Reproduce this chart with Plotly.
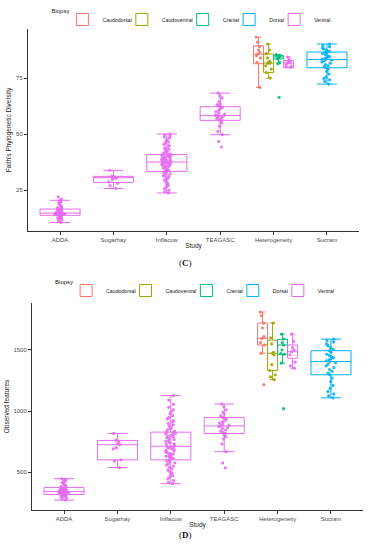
import plotly.graph_objects as go

# ---------------- data ----------------
studies = ["ADDA", "Sugarhay", "Inflacow", "TEAGASC", "Heterogeneity", "Sucram"]
biopsies = ["Caudodorsal", "Caudoventral", "Cranial", "Dorsal", "Ventral"]
biopsy_colors = ["#F8766D", "#A3A500", "#00BF7D", "#00B0F6", "#E76BF3"]

# groups in drawing order: (study, biopsy)
group_study = ["ADDA", "Sugarhay", "Inflacow", "TEAGASC",
               "Heterogeneity", "Heterogeneity", "Heterogeneity", "Heterogeneity", "Sucram"]
group_biopsy = ["Ventral", "Ventral", "Ventral", "Ventral",
                "Caudodorsal", "Caudoventral", "Cranial", "Ventral", "Dorsal"]

faith_ticks = [25, 50, 75]
observed_ticks = [500, 1000, 1500]

# Faith's Phylogenetic Diversity (panel C)
faith_adda = [10.5, 11.2, 11.8, 12.3, 12.7, 13.0, 13.3, 13.5, 13.7, 13.8, 13.9, 14.0, 14.1, 14.2,
              14.3, 14.4, 14.5, 14.6, 14.7, 14.7, 14.8, 14.9, 15.0, 15.1, 15.3, 15.5, 15.7, 16.0,
              16.3, 16.5, 16.8, 17.2, 17.6, 18.2, 18.8, 19.3, 19.6, 20.4, 21.0, 21.9]
faith_sugarhay = [25.7, 27.0, 28.0, 28.6, 29.6, 30.2, 30.5, 30.8, 31.2, 33.8]
faith_inflacow = [23.7, 24.2, 24.9, 25.5, 26.3, 27.0, 27.6, 28.1, 28.8, 29.4, 30.0, 30.5, 31.0,
                  31.4, 31.8, 32.2, 32.6, 33.0, 33.3, 33.6, 33.9, 34.2, 34.5, 34.8, 35.1, 35.3,
                  35.6, 35.8, 36.0, 36.2, 36.4, 36.6, 36.8, 37.0, 37.1, 37.2, 37.4, 37.5, 37.7,
                  37.9, 38.1, 38.3, 38.5, 38.7, 38.9, 39.1, 39.3, 39.5, 39.7, 39.9, 40.1, 40.3,
                  40.5, 40.6, 40.8, 40.9, 41.2, 41.5, 41.9, 42.3, 42.8, 43.2, 43.7, 44.2, 44.8,
                  45.3, 45.9, 46.4, 47.0, 47.6, 48.2, 48.7, 49.2, 49.6, 50.0]
faith_teagasc = [44.2, 46.7, 49.7, 51.2, 53.5, 55.0, 55.8, 56.1, 56.5, 57.0, 57.4, 57.8, 58.1,
                 58.3, 58.5, 58.9, 59.4, 60.0, 60.6, 61.2, 61.8, 62.2, 62.6, 63.1, 63.5, 64.5,
                 66.0, 67.0, 68.3]
faith_het_caudodorsal = [70.8, 82.0, 84.0, 85.0, 85.7, 86.5, 87.5, 89.0, 91.0, 93.3]
faith_het_caudoventral = [75.0, 77.5, 79.0, 80.5, 81.5, 81.7, 82.0, 82.5, 84.0, 86.0, 87.5, 90.2]
faith_het_cranial = [66.4, 81.4, 82.0, 83.5, 84.0, 84.4, 84.5, 84.8, 85.0, 85.5]
faith_het_ventral = [79.7, 80.0, 80.5, 81.0, 81.7, 82.0, 82.5, 83.0, 84.4]
faith_sucram = [72.3, 73.5, 74.2, 74.8, 75.5, 76.8, 78.0, 79.0, 79.6, 80.0, 80.4, 81.0, 81.6,
                82.2, 82.8, 83.0, 83.3, 83.5, 83.8, 84.2, 84.6, 85.0, 85.5, 86.0, 86.4, 86.6,
                87.0, 87.5, 88.0, 88.5, 89.0, 89.6, 90.2]

faith_q1 = [13.7, 28.4, 33.3, 56.1, 81.4, 77.5, 83.5, 79.7, 79.6]
faith_median = [14.7, 30.5, 37.5, 58.3, 85.7, 81.7, 84.4, 81.7, 83.3]
faith_q3 = [16.5, 31.1, 40.9, 62.2, 89.4, 85.7, 85.0, 82.9, 86.6]
faith_lower = [10.5, 25.7, 23.7, 49.7, 70.8, 75.0, 81.4, 79.7, 72.3]
faith_upper = [20.4, 33.8, 50.0, 68.3, 93.3, 90.2, 85.5, 84.4, 90.2]

# Observed features (panel D)
obs_adda = [270, 280, 288, 295, 300, 305, 309, 312, 315, 317, 320, 323, 326, 329, 332, 334,
            336, 338, 340, 341, 343, 345, 347, 350, 353, 356, 359, 362, 366, 370, 374, 380,
            388, 396, 405, 415, 425, 432, 440, 446]
obs_sugarhay = [537, 590, 600, 690, 700, 724, 730, 750, 760, 816]
obs_inflacow = [405, 415, 430, 445, 458, 470, 482, 494, 505, 516, 527, 538, 549, 558, 567, 576,
                584, 592, 600, 606, 612, 618, 624, 630, 636, 642, 648, 654, 660, 666, 672, 678,
                684, 690, 696, 701, 706, 711, 717, 724, 731, 738, 745, 752, 759, 766, 773, 780,
                787, 794, 800, 806, 812, 817, 822, 827, 835, 845, 855, 865, 876, 887, 898, 910,
                922, 935, 948, 962, 977, 993, 1010, 1030, 1055, 1090, 1127]
obs_teagasc = [535, 575, 667, 730, 770, 790, 805, 816, 825, 835, 845, 855, 865, 872, 878, 884,
               892, 900, 910, 920, 930, 940, 946, 960, 975, 990, 1010, 1035, 1057]
obs_het_caudodorsal = [1216, 1473, 1541, 1560, 1595, 1610, 1680, 1720, 1780, 1811]
obs_het_caudoventral = [1257, 1279, 1297, 1332, 1380, 1460, 1473, 1480, 1550, 1600, 1721]
obs_het_cranial = [1019, 1392, 1465, 1470, 1500, 1541, 1560, 1590, 1630]
obs_het_ventral = [1351, 1370, 1400, 1460, 1486, 1500, 1520, 1570, 1630]
obs_sucram = [1108, 1125, 1140, 1160, 1185, 1210, 1240, 1270, 1297, 1310, 1325, 1340, 1355,
              1370, 1385, 1395, 1405, 1412, 1420, 1428, 1436, 1445, 1455, 1465, 1480, 1494,
              1505, 1520, 1535, 1550, 1565, 1578, 1589]

obs_q1 = [316, 600, 600, 816, 1541, 1332, 1465, 1432, 1297]
obs_median = [340, 724, 711, 878, 1595, 1473, 1541, 1486, 1405]
obs_q3 = [374, 759, 827, 946, 1721, 1581, 1587, 1541, 1494]
obs_lower = [270, 537, 405, 667, 1473, 1257, 1392, 1351, 1108]
obs_upper = [446, 816, 1127, 1057, 1811, 1721, 1630, 1630, 1589]

faith_points = [faith_adda, faith_sugarhay, faith_inflacow, faith_teagasc,
                faith_het_caudodorsal, faith_het_caudoventral, faith_het_cranial,
                faith_het_ventral, faith_sucram]
obs_points = [obs_adda, obs_sugarhay, obs_inflacow, obs_teagasc,
              obs_het_caudodorsal, obs_het_caudoventral, obs_het_cranial,
              obs_het_ventral, obs_sucram]

# ---------------- figure ----------------
FONT = "Liberation Sans, Arial, sans-serif"
DODGE = 0.75


def positions():
    pos, widths = [], []
    for s, b in zip(group_study, group_biopsy):
        members = [bb for ss, bb in zip(group_study, group_biopsy) if ss == s]
        n = len(members)
        i = members.index(b)
        w = DODGE / n
        pos.append(studies.index(s) + (i - (n - 1) / 2) * w)
        widths.append(w)
    return pos, widths


pos, widths = positions()
fig = go.Figure()


def add_panel(points, q1, med, q3, lo, hi, xa, ya, legend_name):
    shown = set()
    for g in range(len(group_study)):
        b = group_biopsy[g]
        col = biopsy_colors[biopsies.index(b)]
        n_in_study = group_study.count(group_study[g])
        # box (precomputed stats)
        fig.add_trace(go.Box(
            x=[pos[g]], q1=[q1[g]], median=[med[g]], q3=[q3[g]],
            lowerfence=[lo[g]], upperfence=[hi[g]], width=widths[g],
            boxpoints=False, line=dict(color=col, width=1),
            fillcolor="rgba(255,255,255,0)", name=b, legendgroup=legend_name + b,
            showlegend=b not in shown, legend=legend_name,
            legendrank=biopsies.index(b) + 1,
            xaxis=xa, yaxis=ya, hoverinfo="skip"))
        shown.add(b)
        # jittered points
        fig.add_trace(go.Box(
            x=[pos[g]] * len(points[g]), y=points[g], width=widths[g],
            boxpoints="all", jitter=0.28 if n_in_study == 1 else 0.7, pointpos=0,
            line=dict(color="rgba(0,0,0,0)", width=0), fillcolor="rgba(0,0,0,0)",
            marker=dict(color=col, size=3.2, opacity=0.9),
            name=b, legendgroup=legend_name + b, showlegend=False, legend=legend_name,
            xaxis=xa, yaxis=ya, hoverinfo="y"))


add_panel(faith_points, faith_q1, faith_median, faith_q3, faith_lower, faith_upper, "x", "y", "legend")
add_panel(obs_points, obs_q1, obs_median, obs_q3, obs_lower, obs_upper, "x2", "y2", "legend2")

axis_common = dict(showline=True, linecolor="#333333", linewidth=1, ticks="outside",
                   ticklen=3, tickcolor="#333333", showgrid=False, zeroline=False,
                   tickfont=dict(family=FONT, size=6, color="#4d4d4d"))

legend_common = dict(orientation="h", xanchor="center", yanchor="top",
                     font=dict(family=FONT, size=5.2, color="#222"),
                     title=dict(text="Biopsy", side="left", font=dict(family=FONT, size=6, color="#222")),
                     itemwidth=30, indentation=-15, bgcolor="rgba(0,0,0,0)",
                     traceorder="normal", tracegroupgap=0)

fig.update_layout(
    width=370, height=550, margin=dict(l=0, r=0, t=0, b=0),
    plot_bgcolor="white", paper_bgcolor="white", boxmode="overlay",
    font=dict(family=FONT, size=6, color="#222"),
    xaxis=dict(domain=[28 / 370, 359 / 370], anchor="y", range=[-0.6, 5.6],
               tickvals=list(range(len(studies))), ticktext=studies,
               title=dict(text="Study", standoff=1, font=dict(family=FONT, size=6.5, color="#222")),
               **axis_common),
    yaxis=dict(domain=[1 - 231 / 550, 1 - 29 / 550], anchor="x", range=[6.7, 96.9],
               tickvals=faith_ticks,
               title=dict(text="Faith's Phylogenetic Diversity", standoff=3,
                          font=dict(family=FONT, size=6.5, color="#222")),
               **axis_common),
    xaxis2=dict(domain=[32 / 370, 363 / 370], anchor="y2", range=[-0.6, 5.6],
                tickvals=list(range(len(studies))), ticktext=studies,
                title=dict(text="Study", standoff=1, font=dict(family=FONT, size=6.5, color="#222")),
                **axis_common),
    yaxis2=dict(domain=[1 - 510 / 550, 1 - 303 / 550], anchor="x2", range=[189, 1885],
                tickvals=observed_ticks,
                title=dict(text="Observed features", standoff=3,
                           font=dict(family=FONT, size=6.5, color="#222")),
                **axis_common),
    legend=dict(x=0.52, y=1 - 5 / 550, **legend_common),
    legend2=dict(x=0.53, y=1 - 276 / 550, **legend_common),
    annotations=[
        dict(text="(<b>C</b>)", x=0.5, y=1 - 263 / 550, xref="paper", yref="paper",
             showarrow=False, font=dict(family="Liberation Serif, Times New Roman, serif", size=9, color="#111")),
        dict(text="(<b>D</b>)", x=0.5, y=1 - 542 / 550, xref="paper", yref="paper",
             showarrow=False, font=dict(family="Liberation Serif, Times New Roman, serif", size=9, color="#111")),
    ],
)

fig.write_html("out.html", config={"displayModeBar": False},
               post_script="document.body.style.margin='0';")
